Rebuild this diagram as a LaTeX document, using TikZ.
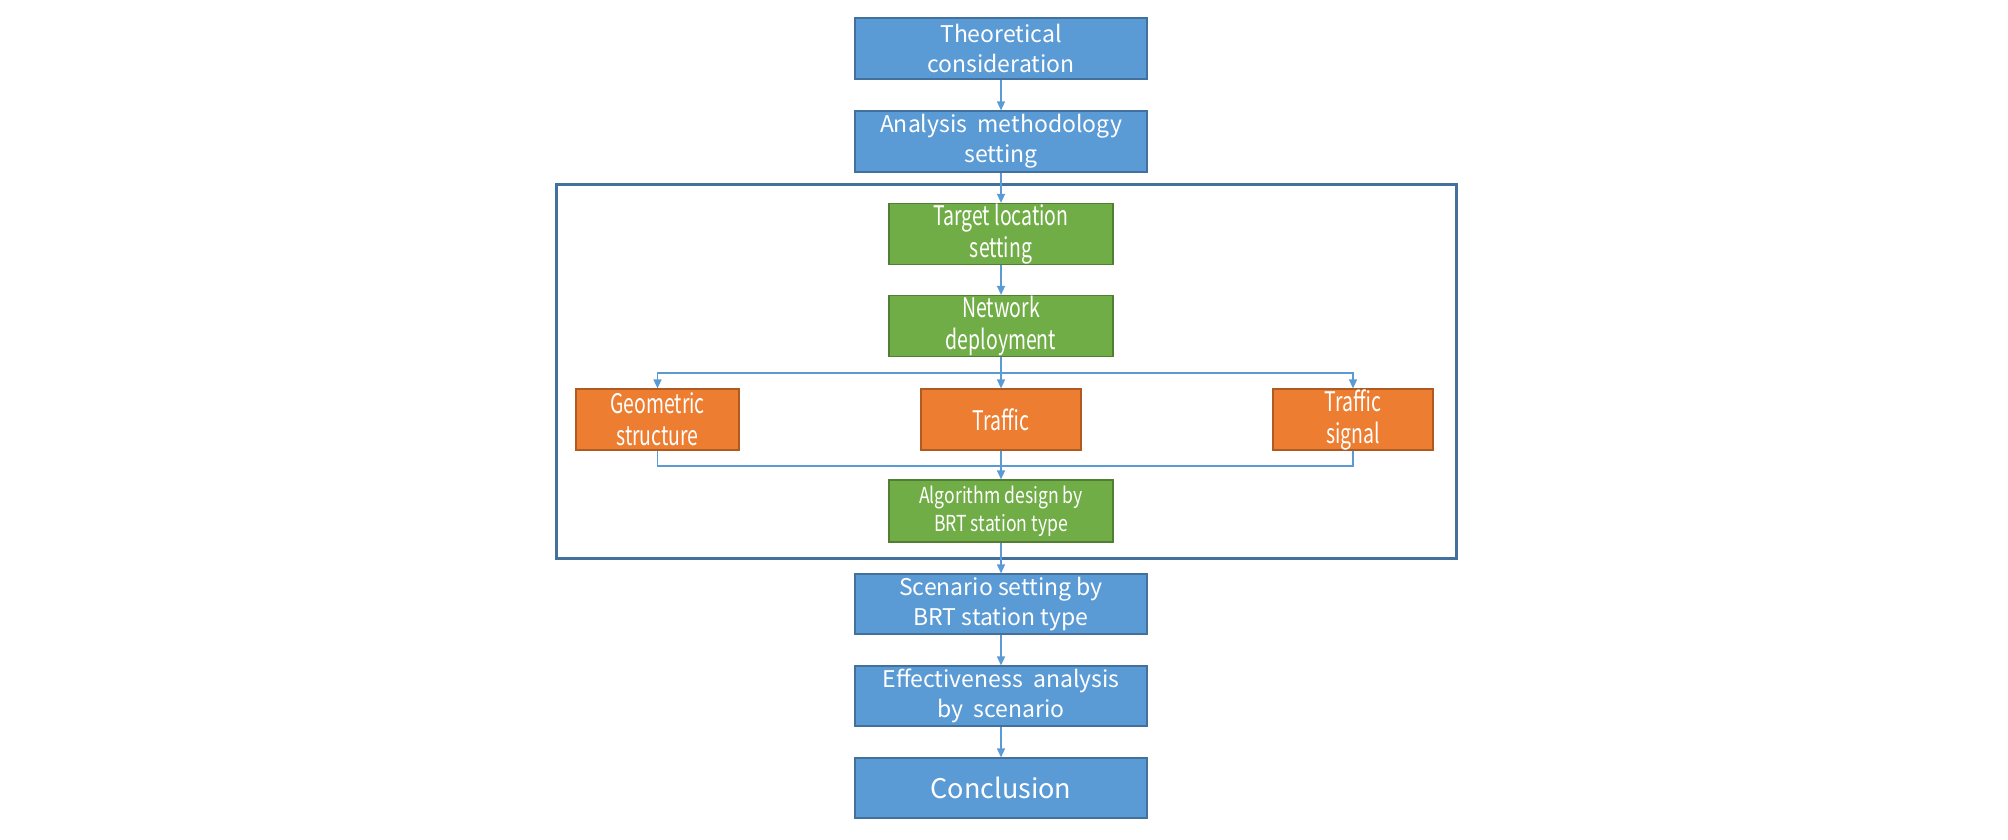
\documentclass[tikz,border=0pt]{standalone}
\usepackage{fontspec}
\setmainfont{Noto Sans CJK KR}
\newfontfamily\narrowfont[FakeStretch=0.72]{Noto Sans CJK KR}
\newfontfamily\algfont[FakeStretch=0.8]{Noto Sans CJK KR}
\usetikzlibrary{arrows.meta}
\definecolor{bfill}{HTML}{5B9BD5}
\definecolor{bdraw}{HTML}{41719C}
\definecolor{gfill}{HTML}{70AD47}
\definecolor{gdraw}{HTML}{507E32}
\definecolor{ofill}{HTML}{ED7D31}
\definecolor{odraw}{HTML}{AE5A21}
\definecolor{lineblue}{HTML}{5B9BD5}
\tikzset{
  bluebox/.style={draw=bdraw, fill=bfill, line width=1.2pt, text=white, minimum width=292pt, minimum height=61pt, align=center, inner sep=0pt, font=\fontsize{23}{30}\selectfont},
  greenbox/.style={draw=gdraw, fill=gfill, line width=1.2pt, text=white, minimum width=224pt, minimum height=61pt, align=center, inner sep=0pt, font=\narrowfont\fontsize{27}{32}\selectfont},
  orangebox/.style={draw=odraw, fill=ofill, line width=1.2pt, text=white, minimum width=160pt, minimum height=61pt, align=center, inner sep=0pt, font=\narrowfont\fontsize{27}{32}\selectfont},
  conn/.style={draw=lineblue, line width=1.4pt, -{Triangle[length=9pt,width=8pt]}},
  plainline/.style={draw=lineblue, line width=1.4pt},
  framebox/.style={draw=bdraw, line width=3pt}
}
\begin{document}
\begin{tikzpicture}[x=1pt,y=-1pt]
\useasboundingbox (0,0) rectangle (2008,840);
\draw[framebox] (556,184) rectangle (1456,558);
\node[bluebox] (theo) at (1001,48.5) {Theoretical\\consideration};
\node[bluebox] (anal) at (1001,141.5) {Analysis~ methodology\\setting};
\node[greenbox] (target) at (1001,234) {Target location\\setting};
\node[greenbox] (net) at (1001,326) {Network\\deployment};
\node[orangebox, minimum width=163pt] (geo) at (657.5,419.5) {Geometric\\structure};
\node[orangebox] (traf) at (1001,419.5) {Traffic};
\node[orangebox] (sig) at (1353,419.5) {Traffic\\signal};
\node[greenbox, minimum height=62pt, font=\algfont\fontsize{22}{28}\selectfont] (alg) at (1001,511) {Algorithm design by\\BRT station type};
\node[bluebox, minimum height=60pt] (scen) at (1001,604) {Scenario setting by\\BRT station type};
\node[bluebox, minimum height=60pt] (eff) at (1001,696) {Effectiveness~ analysis\\by~ scenario};
\node[bluebox, minimum height=60pt, font=\fontsize{27}{32}\selectfont] (conc) at (1001,788) {Conclusion};
\coordinate (split) at (1001,373);
\coordinate (merge) at (1001,466);
\draw[conn] (theo) -- (anal);
\draw[conn] (anal) -- (target);
\draw[conn] (target) -- (net);
\draw[conn] (net) -- (traf);
\draw[conn] (split) -| (geo.north);
\draw[conn] (split) -| (sig.north);
\draw[plainline] (geo.south) |- (merge);
\draw[plainline] (sig.south) |- (merge);
\draw[conn] (traf) -- (alg);
\draw[conn] (alg) -- (scen);
\draw[conn] (scen) -- (eff);
\draw[conn] (eff) -- (conc);
\end{tikzpicture}
\end{document}
